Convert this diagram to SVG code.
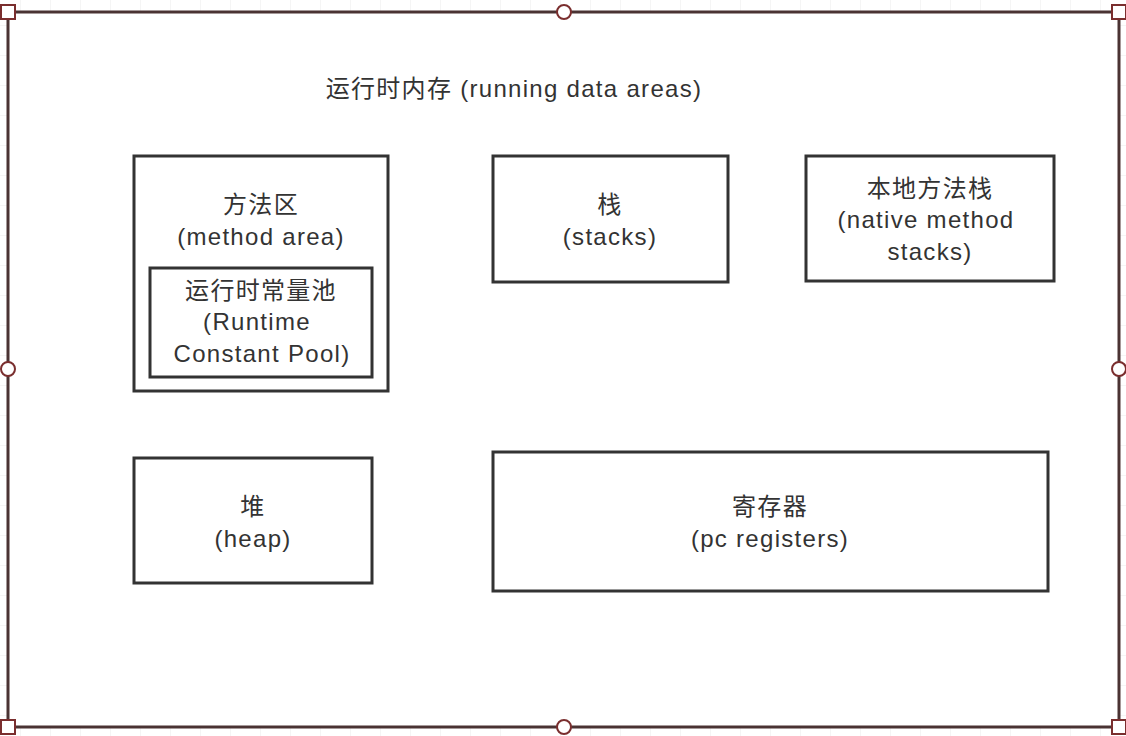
<svg xmlns="http://www.w3.org/2000/svg" width="1126" height="736" viewBox="0 0 1126 736">
<style>
.box{fill:#fff;stroke:#333;stroke-width:3}
.t{font-family:"Liberation Sans","Noto Sans CJK SC",sans-serif;font-size:24px;fill:#333;text-anchor:middle;dominant-baseline:central;letter-spacing:1.3px}
.h{fill:#fff;stroke:#7a2e2e;stroke-width:2}
</style>
<defs>
<pattern id="grid" x="20" y="25" width="30" height="30" patternUnits="userSpaceOnUse">
<path d="M0 0V30M0 0H30" fill="none" stroke="#ececec" stroke-width="1"/>
</pattern>
</defs>
<rect width="1126" height="736" fill="#fff"/>
<rect width="1126" height="736" fill="url(#grid)"/>
<g id="frame">
<rect x="8" y="12" width="1111" height="715" fill="#fff" stroke="#4a3333" stroke-width="3"/>
<text class="t" x="514" y="88">运行时内存 (running data areas)</text>
</g>
<g id="method-area">
<rect class="box" x="134" y="156" width="254" height="235"/>
<text class="t" x="261" y="204">方法区</text>
<text class="t" x="261" y="236">(method area)</text>
</g>
<g id="runtime-constant-pool">
<rect class="box" x="150" y="268" width="222" height="109"/>
<text class="t" x="261" y="290">运行时常量池</text>
<text class="t" x="257" y="321">(Runtime</text>
<text class="t" x="262" y="353">Constant Pool)</text>
</g>
<g id="stacks">
<rect class="box" x="493" y="156" width="235" height="126"/>
<text class="t" x="610" y="204">栈</text>
<text class="t" x="610" y="236">(stacks)</text>
</g>
<g id="native-method-stacks">
<rect class="box" x="806" y="156" width="248" height="125"/>
<text class="t" x="930" y="188">本地方法栈</text>
<text class="t" x="926" y="219">(native method</text>
<text class="t" x="930" y="251">stacks)</text>
</g>
<g id="heap">
<rect class="box" x="134" y="458" width="238" height="125"/>
<text class="t" x="253" y="506">堆</text>
<text class="t" x="253" y="538">(heap)</text>
</g>
<g id="pc-registers">
<rect class="box" x="493" y="452" width="555" height="139"/>
<text class="t" x="770" y="506">寄存器</text>
<text class="t" x="770" y="538">(pc registers)</text>
</g>
<g id="connectors"></g>
<g id="handles">
<rect class="h" x="1" y="5" width="14" height="14"/>
<rect class="h" x="1112" y="5" width="14" height="14"/>
<rect class="h" x="1" y="720" width="14" height="14"/>
<rect class="h" x="1112" y="720" width="14" height="14"/>
<circle class="h" cx="564" cy="12" r="7"/>
<circle class="h" cx="564" cy="727" r="7"/>
<circle class="h" cx="8" cy="369" r="7"/>
<circle class="h" cx="1119" cy="369" r="7"/>
</g>
</svg>
